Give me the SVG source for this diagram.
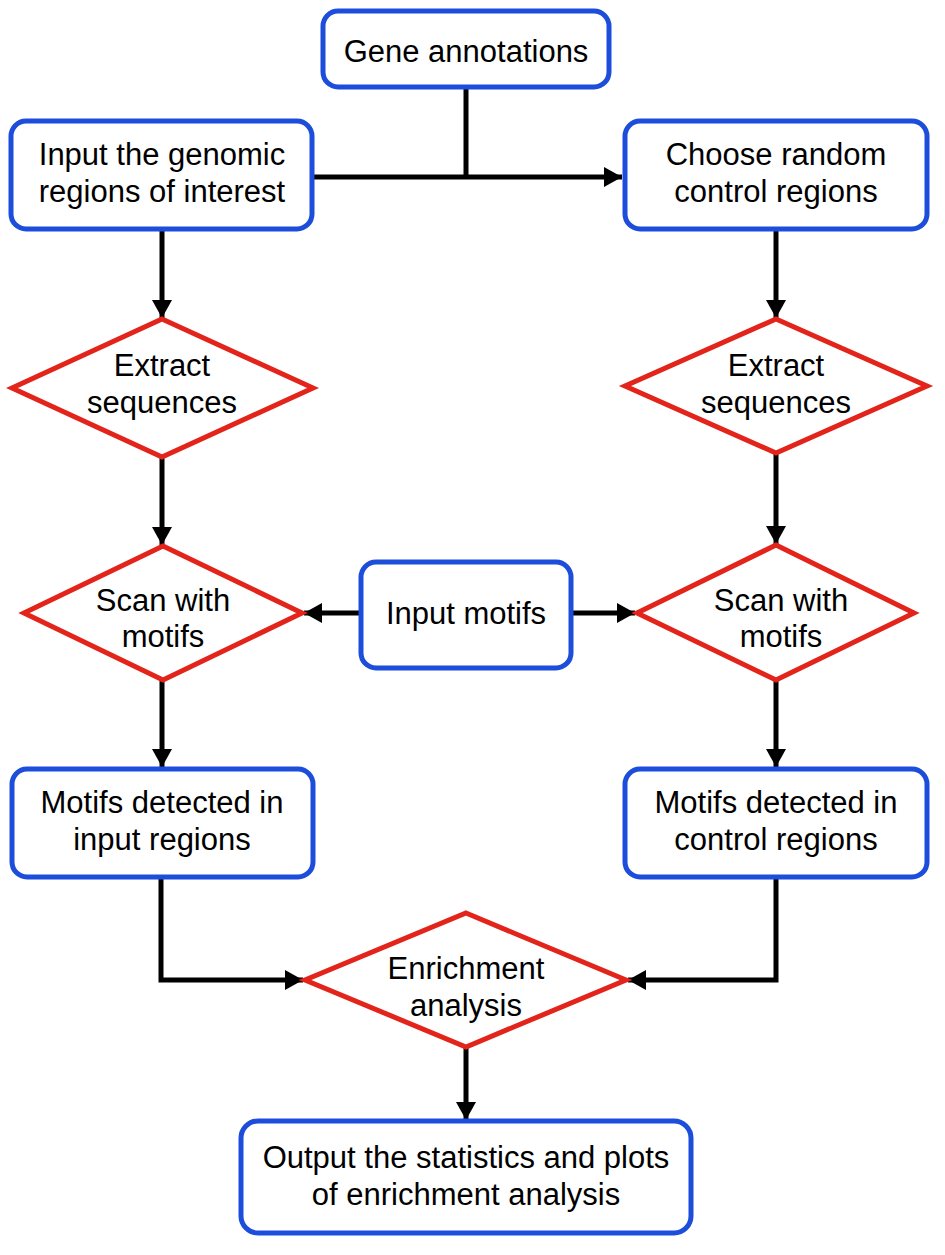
<svg xmlns="http://www.w3.org/2000/svg" width="945" height="1255" viewBox="0 0 945 1255">
<defs>
<style>
.box{fill:#fff;stroke:#1c4ddb;stroke-width:5}
.dia{fill:#fff;stroke:#e3241b;stroke-width:5;stroke-linejoin:miter}
.ln{fill:none;stroke:#000;stroke-width:5}
text{font-family:"Liberation Sans",Arial,sans-serif;font-size:31px;fill:#000;text-anchor:middle}
</style>
<marker id="ah" viewBox="0 0 18 20" refX="18" refY="10" markerWidth="18" markerHeight="20" markerUnits="userSpaceOnUse" orient="auto">
<path d="M0,0 L18,10 L0,20 Z" fill="#000"/>
</marker>
</defs>
<rect width="945" height="1255" fill="#fff"/>
<g id="connectors">
<path class="ln" d="M466,87 V177"/>
<path class="ln" d="M312,177 H622" marker-end="url(#ah)"/>
<path class="ln" d="M162,229 V318" marker-end="url(#ah)"/>
<path class="ln" d="M776,229 V318" marker-end="url(#ah)"/>
<path class="ln" d="M162,457 V545" marker-end="url(#ah)"/>
<path class="ln" d="M776,453 V544" marker-end="url(#ah)"/>
<path class="ln" d="M361,613 H304" marker-end="url(#ah)"/>
<path class="ln" d="M571,613 H635" marker-end="url(#ah)"/>
<path class="ln" d="M162,680 V767" marker-end="url(#ah)"/>
<path class="ln" d="M776,680 V767" marker-end="url(#ah)"/>
<path class="ln" d="M161,877 V980 H303" marker-end="url(#ah)"/>
<path class="ln" d="M776,877 V980 H628" marker-end="url(#ah)"/>
<path class="ln" d="M466,1047 V1120" marker-end="url(#ah)"/>
</g>
<g id="gene-annotations">
<rect class="box" x="323" y="11" width="286" height="76" rx="15"/>
<text x="466" y="62">Gene annotations</text>
</g>
<g id="input-regions">
<rect class="box" x="11" y="121" width="301" height="108" rx="15"/>
<text x="162" y="165">Input the genomic</text>
<text x="162" y="202">regions of interest</text>
</g>
<g id="random-control">
<rect class="box" x="625" y="121" width="302" height="108" rx="15"/>
<text x="776" y="165">Choose random</text>
<text x="776" y="202">control regions</text>
</g>
<g id="extract-left">
<polygon class="dia" points="162,319 313,388 162,457 12,388"/>
<text x="162" y="376">Extract</text>
<text x="162" y="413">sequences</text>
</g>
<g id="extract-right">
<polygon class="dia" points="776,319 927,386 776,453 625,386"/>
<text x="776" y="376">Extract</text>
<text x="776" y="413">sequences</text>
</g>
<g id="scan-left">
<polygon class="dia" points="163,546 302,613 163,680 24,613"/>
<text x="163" y="611">Scan with</text>
<text x="163" y="647">motifs</text>
</g>
<g id="input-motifs">
<rect class="box" x="361" y="562" width="210" height="106" rx="15"/>
<text x="466" y="624">Input motifs</text>
</g>
<g id="scan-right">
<polygon class="dia" points="776,545 914,613 776,680 637,613"/>
<text x="781" y="611">Scan with</text>
<text x="781" y="647">motifs</text>
</g>
<g id="detected-input">
<rect class="box" x="12" y="769" width="301" height="108" rx="15"/>
<text x="162" y="813">Motifs detected in</text>
<text x="162" y="850">input regions</text>
</g>
<g id="detected-control">
<rect class="box" x="625" y="769" width="302" height="108" rx="15"/>
<text x="776" y="813">Motifs detected in</text>
<text x="776" y="850">control regions</text>
</g>
<g id="enrichment">
<polygon class="dia" points="466,913 626,980 466,1047 305,980"/>
<text x="466" y="979">Enrichment</text>
<text x="466" y="1016">analysis</text>
</g>
<g id="output">
<rect class="box" x="241" y="1121" width="450" height="112" rx="17"/>
<text x="466" y="1168">Output the statistics and plots</text>
<text x="466" y="1205">of enrichment analysis</text>
</g>
</svg>
